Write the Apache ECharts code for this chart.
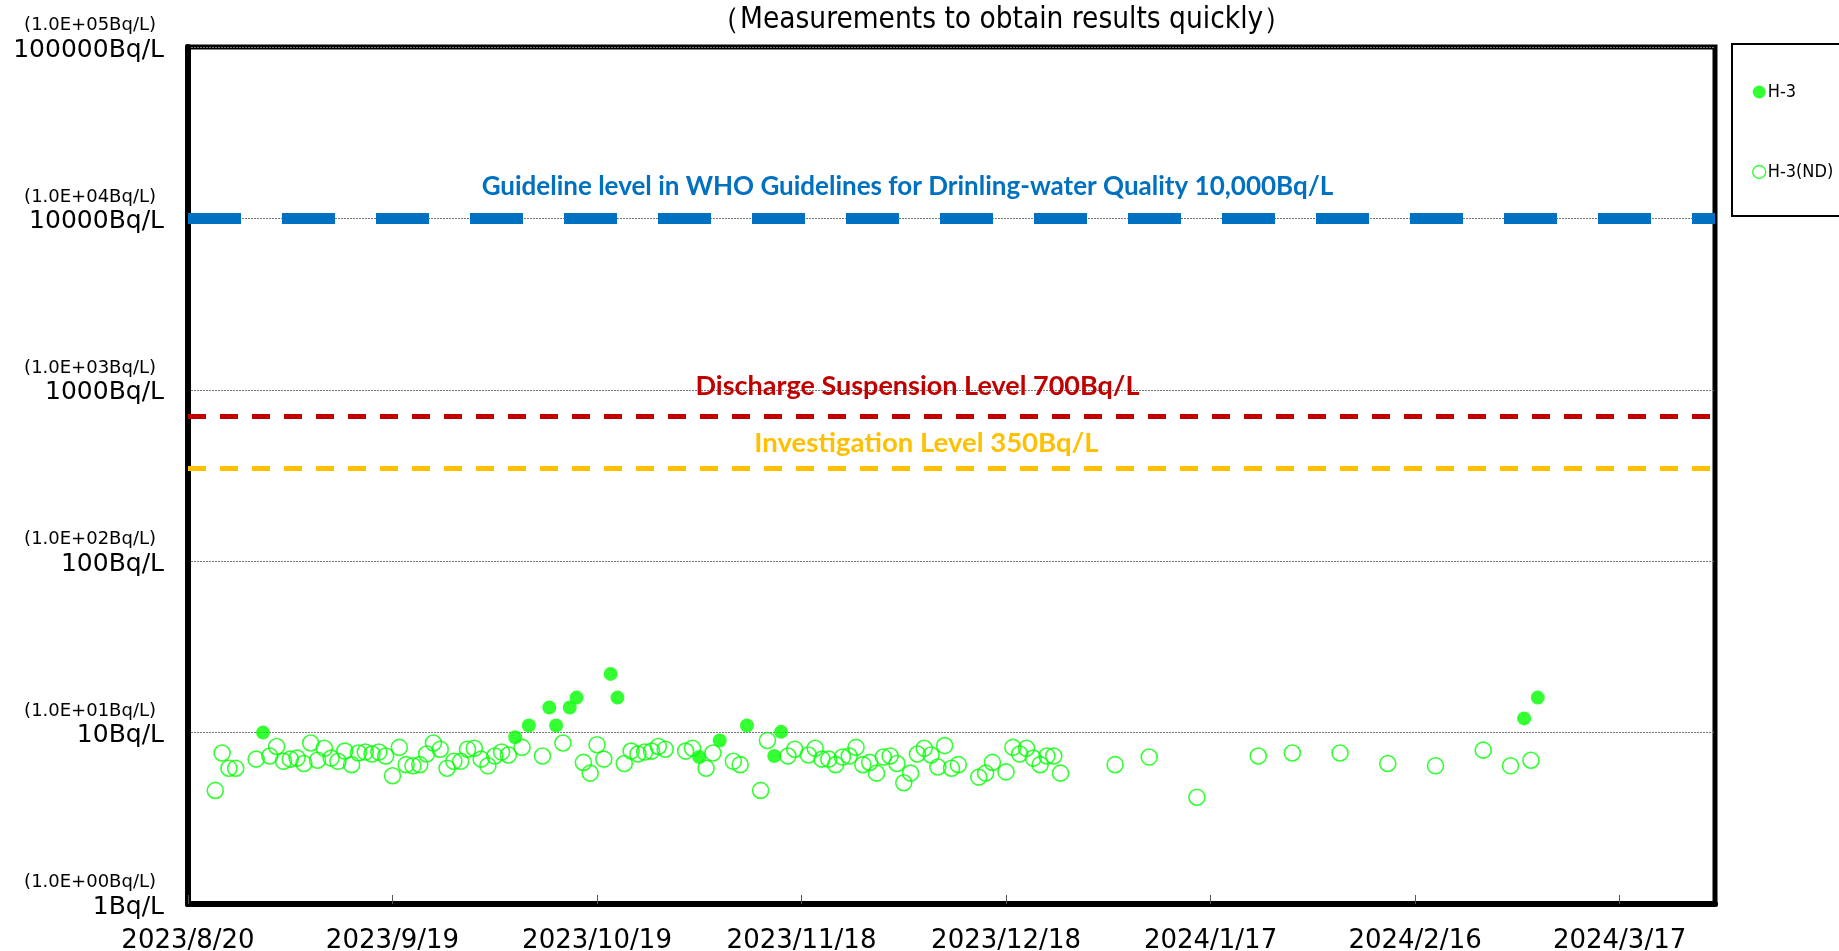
<!DOCTYPE html>
<html>
<head>
<meta charset="utf-8">
<script src="https://cdn.jsdelivr.net/npm/echarts@6/dist/echarts.min.js"></script>
<style>
  html, body { margin: 0; padding: 0; background: #fff; }
  #chart { width: 1839px; height: 951px; }
</style>
</head>
<body>
<div id="chart"></div>
<script>
// measured H-3 (above detection limit)
const detectedDates = [
  '2023-08-31', '2023-10-07', '2023-10-09', '2023-10-12', '2023-10-13', '2023-10-15',
  '2023-10-16', '2023-10-21', '2023-10-22', '2023-11-03', '2023-11-06', '2023-11-10',
  '2023-11-14', '2023-11-15', '2024-03-03', '2024-03-05'
]
const detectedValues = [
  10.0, 9.4, 11.0, 14.0, 11.0, 14.0,
  16.0, 22.0, 16.0, 7.2, 9.0, 11.0,
  7.3, 10.1, 12.1, 16.0
]

// H-3 below detection limit (ND) - plotted at the detection limit
const ndDates = [
  '2023-08-24', '2023-08-25', '2023-08-26', '2023-08-27', '2023-08-30', '2023-09-01',
  '2023-09-02', '2023-09-03', '2023-09-04', '2023-09-05', '2023-09-06', '2023-09-07',
  '2023-09-08', '2023-09-09', '2023-09-10', '2023-09-11', '2023-09-12', '2023-09-13',
  '2023-09-14', '2023-09-15', '2023-09-16', '2023-09-17', '2023-09-18', '2023-09-19',
  '2023-09-20', '2023-09-21', '2023-09-22', '2023-09-23', '2023-09-24', '2023-09-25',
  '2023-09-26', '2023-09-27', '2023-09-28', '2023-09-29', '2023-09-30', '2023-10-01',
  '2023-10-02', '2023-10-03', '2023-10-04', '2023-10-05', '2023-10-06', '2023-10-08',
  '2023-10-11', '2023-10-14', '2023-10-17', '2023-10-18', '2023-10-19', '2023-10-20',
  '2023-10-23', '2023-10-24', '2023-10-25', '2023-10-26', '2023-10-27', '2023-10-28',
  '2023-10-29', '2023-11-01', '2023-11-02', '2023-11-04', '2023-11-05', '2023-11-08',
  '2023-11-09', '2023-11-12', '2023-11-13', '2023-11-16', '2023-11-17', '2023-11-19',
  '2023-11-20', '2023-11-21', '2023-11-22', '2023-11-23', '2023-11-24', '2023-11-25',
  '2023-11-26', '2023-11-27', '2023-11-28', '2023-11-29', '2023-11-30', '2023-12-01',
  '2023-12-02', '2023-12-03', '2023-12-04', '2023-12-05', '2023-12-06', '2023-12-07',
  '2023-12-08', '2023-12-09', '2023-12-10', '2023-12-11', '2023-12-14', '2023-12-15',
  '2023-12-16', '2023-12-18', '2023-12-19', '2023-12-20', '2023-12-21', '2023-12-22',
  '2023-12-23', '2023-12-24', '2023-12-25', '2023-12-26', '2024-01-03', '2024-01-08',
  '2024-01-15', '2024-01-24', '2024-01-29', '2024-02-05', '2024-02-12', '2024-02-19',
  '2024-02-26', '2024-03-01', '2024-03-04'
]
const ndValues = [
  4.6, 7.6, 6.2, 6.2, 7.0, 7.3,
  8.3, 6.8, 7.0, 7.1, 6.6, 8.7,
  6.9, 8.1, 7.1, 6.8, 7.8, 6.5,
  7.6, 7.7, 7.5, 7.7, 7.3, 5.6,
  8.2, 6.5, 6.4, 6.5, 7.5, 8.7,
  8.0, 6.2, 6.8, 6.8, 8.0, 8.1,
  7.0, 6.4, 7.3, 7.7, 7.4, 8.2,
  7.3, 8.7, 6.7, 5.8, 8.5, 7.0,
  6.6, 7.8, 7.5, 7.7, 7.8, 8.3,
  8.0, 7.8, 8.1, 6.2, 7.6, 6.8,
  6.5, 4.6, 9.0, 7.3, 8.0, 7.4,
  8.1, 7.0, 7.0, 6.5, 7.2, 7.3,
  8.2, 6.5, 6.7, 5.8, 7.2, 7.3,
  6.6, 5.1, 5.8, 7.5, 8.1, 7.4,
  6.3, 8.4, 6.2, 6.5, 5.5, 5.8,
  6.7, 5.9, 8.2, 7.5, 8.1, 7.1,
  6.5, 7.3, 7.3, 5.8, 6.5, 7.2,
  4.2, 7.3, 7.6, 7.6, 6.6, 6.4,
  7.9, 6.4, 6.9
]

// axes
const xStartDate = '2023-08-20'
const xEndDate = '2024-03-31'
const xTickDays = 30
const yTickLabels = ['1Bq/L', '10Bq/L', '100Bq/L', '1000Bq/L', '10000Bq/L', '100000Bq/L']
const yTickExpLabels = ['(1.0E+00Bq/L)', '(1.0E+01Bq/L)', '(1.0E+02Bq/L)', '(1.0E+03Bq/L)', '(1.0E+04Bq/L)', '(1.0E+05Bq/L)']

// reference levels
const refValues = [10000, 700, 350]
const refLabels = [
  'Guideline level in WHO Guidelines for Drinling-water Quality 10,000Bq/L',
  'Discharge Suspension Level 700Bq/L',
  'Investigation Level 350Bq/L'
]

const titleText = '（Measurements to obtain results quickly）'

const DAY = 86400000
const toUtc = (s) => {
  const [y, m, d] = s.split('-').map(Number)
  return Date.UTC(y, m - 1, d)
}
const startUtc = toUtc(xStartDate)
const dayOffset = (s) => Math.round((toUtc(s) - startUtc) / DAY)
const toPoints = (dates, values) => dates.map((d, i) => [dayOffset(d), values[i]])

const fmtDate = (off) => {
  const d = new Date(startUtc + off * DAY)
  return d.getUTCFullYear() + '/' + (d.getUTCMonth() + 1) + '/' + d.getUTCDate()
}

const narrowFont = '"DejaVu Sans Condensed", "Liberation Sans Narrow", sans-serif'
const axisFont = '"DejaVu Sans", sans-serif'
const labelFont = 'Lato, "Open Sans", sans-serif'

const refStyles = [
  { color: '#0070c0', width: 11, dash: [53, 41], distance: 19, shift: 88, size: 26 },
  { color: '#c00000', width: 5, dash: [18, 14], distance: 17, shift: 68, size: 27 },
  { color: '#ffc000', width: 5, dash: [18, 14], distance: 11, shift: 50, size: 27.5 }
]

const chart = echarts.init(document.getElementById('chart'))

chart.setOption({
  animation: false,
  backgroundColor: '#fff',
  title: {
    text: titleText,
    left: 705,
    top: 0,
    textStyle: {
      fontFamily: narrowFont,
      fontWeight: 'normal',
      fontSize: 29.5,
      color: '#000'
    }
  },
  grid: {
    left: 188,
    right: 124,
    top: 47,
    bottom: 47,
    outerBoundsMode: 'none',
    containLabel: false,
    show: true,
    borderColor: '#000',
    borderWidth: 5
  },
  legend: {
    orient: 'vertical',
    left: 1747,
    top: 78,
    itemWidth: 13,
    itemHeight: 13,
    itemGap: 62,
    itemStyle: { borderWidth: 1.4 },
    data: ['H-3', 'H-3(ND)'],
    textStyle: {
      fontFamily: narrowFont,
      fontSize: 18,
      padding: [6, 0, 0, -3],
      color: '#000'
    }
  },
  graphic: [{
    type: 'rect',
    z: 0,
    shape: { x: 1732, y: 44, width: 140, height: 172 },
    style: { fill: '#fff', stroke: '#000', lineWidth: 2 }
  }],
  xAxis: {
    type: 'value',
    min: 0,
    max: dayOffset(xEndDate),
    interval: xTickDays,
    axisLine: { show: true, lineStyle: { color: '#000', width: 6 } },
    axisTick: { show: true, inside: true, length: 9, lineStyle: { color: '#555', width: 1 } },
    splitLine: { show: false },
    axisLabel: {
      showMaxLabel: false,
      margin: 24,
      fontFamily: axisFont,
      fontSize: 26,
      color: '#000',
      formatter: (v) => fmtDate(v)
    }
  },
  yAxis: {
    type: 'log',
    logBase: 10,
    min: 1,
    max: 100000,
    axisLine: { show: true, lineStyle: { color: '#000', width: 6 } },
    axisTick: { show: false },
    splitLine: { show: true, lineStyle: { color: '#777', width: 1, type: [2, 1] } },
    axisLabel: {
      margin: 24,
      formatter: (v) => {
        const e = Math.round(Math.log10(v))
        return '{s|' + yTickExpLabels[e] + '}\n{b|' + yTickLabels[e] + '}\n{e| }'
      },
      rich: {
        s: { fontFamily: axisFont, fontSize: 18, lineHeight: 23, color: '#000', align: 'right', padding: [0, 8, 0, 0] },
        b: { fontFamily: axisFont, fontSize: 25, lineHeight: 26, color: '#000', align: 'right' },
        e: { fontSize: 10, lineHeight: 17 }
      }
    }
  },
  series: [
    {
      name: 'refLevels',
      type: 'line',
      data: [],
      silent: true,
      markLine: {
        silent: true,
        symbol: 'none',
        animation: false,
        data: refValues.map((v, i) => ({
          yAxis: v,
          lineStyle: {
            color: refStyles[i].color,
            width: refStyles[i].width,
            type: refStyles[i].dash
          },
          label: {
            show: true,
            position: 'middle',
            distance: refStyles[i].distance,
            formatter: refLabels[i],
            padding: [0, refStyles[i].shift, 0, 0],
            fontFamily: labelFont,
            fontWeight: 'bold',
            fontSize: refStyles[i].size,
            color: refStyles[i].color
          }
        }))
      }
    },
    {
      name: 'H-3(ND)',
      type: 'scatter',
      symbol: 'circle',
      symbolSize: 16,
      z: 3,
      itemStyle: {
        color: 'rgba(255,255,255,0)',
        borderColor: '#00ff00',
        borderWidth: 1.6
      },
      data: toPoints(ndDates, ndValues)
    },
    {
      name: 'H-3',
      type: 'scatter',
      symbol: 'circle',
      symbolSize: 14,
      z: 4,
      itemStyle: { color: '#00ff00' },
      data: toPoints(detectedDates, detectedValues)
    }
  ]
})
</script>
</body>
</html>
